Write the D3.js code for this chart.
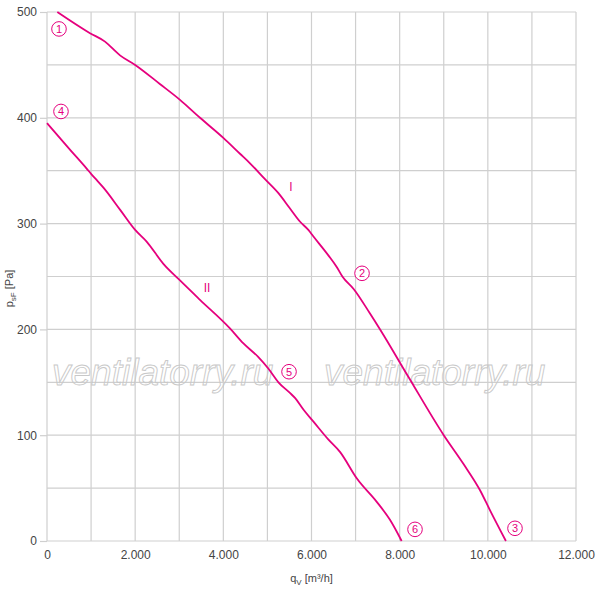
<!DOCTYPE html>
<html>
<head>
<meta charset="utf-8">
<script src="https://cdn.jsdelivr.net/npm/d3@7"></script>
<style>
  html, body { margin: 0; padding: 0; background: #fff; }
  svg { display: block; font-family: "Liberation Sans", Arial, sans-serif; }
</style>
</head>
<body>
<svg id="chart" width="600" height="590"></svg>
<script>
// ---- data ----
const curveI = [
  [234,500],[975,480],[1316,472],[1656,459],[2000,450],[2560,432],[3017,417],
  [3471,400],[4000,381],[4378,366],[4605,357],[4945,342],[5245,329],
  [5500,315],[5737,302],[5929,294],[6040,288],[6382,270],[6572,259],[6700,250],
  [6960,238],[7327,215],[7570,199],[8200,155],[9000,100],[9445,73],
  [9823,48],[10050,29],[10410,0]
];
const curveII = [
  [0,395],[520,370],[900,352],[1000,347],[1130,341],[1280,334],[1660,313],
  [2000,294],[2260,283],[2640,262],[3000,247],[3470,228],[4150,201],[4450,187],
  [4790,174],[5020,163],[5250,150],[5510,140],[5630,135],[5820,124],[6040,113],
  [6380,96],[6650,84],[7030,59],[7480,37],[7780,20],[8045,0]
];
const xTickValues = [0,2000,4000,6000,8000,10000,12000];
const xGridValues = [0,1000,2000,3000,4000,5000,6000,7000,8000,9000,10000,11000,12000];
const yTickValues = [0,100,200,300,400,500];
const yGridValues = [0,50,100,150,200,250,300,350,400,450,500];
const pointLabels = [
  {t:"1", q:272, p:484}, {t:"2", q:7146, p:253}, {t:"3", q:10616, p:12},
  {t:"4", q:317, p:406}, {t:"5", q:5490, p:160}, {t:"6", q:8348, p:11}
];
const curveLabels = [{t:"I", q:5535, p:335}, {t:"II", q:3630, p:239}];

// ---- layout ----
const svg = d3.select("#chart");
const M = {left:47, top:12, right:24, bottom:49};
const W = 600 - M.left - M.right, H = 590 - M.top - M.bottom;
const x = d3.scaleLinear().domain([0,12000]).range([M.left, M.left+W]);
const y = d3.scaleLinear().domain([0,500]).range([M.top+H, M.top]);
const magenta = "#e5007d";
const gridCol = "#cfcfcf";
const textCol = "#444";
const loc = d3.formatLocale({decimal:",", thousands:".", grouping:[3], currency:["",""]});
const fmt = loc.format(",d");

// grid
svg.append("g").selectAll("line").data(xGridValues).join("line")
  .attr("x1", d=>x(d)).attr("x2", d=>x(d)).attr("y1", y(0)).attr("y2", y(500))
  .attr("stroke", gridCol).attr("stroke-width", 1.2);
svg.append("g").selectAll("line").data(yGridValues).join("line")
  .attr("x1", x(0)).attr("x2", x(12000)).attr("y1", d=>y(d)).attr("y2", d=>y(d))
  .attr("stroke", gridCol).attr("stroke-width", 1.2);

// y axis ticks and labels
const yAxis = svg.append("g").attr("transform", `translate(${x(0)},0)`)
  .call(d3.axisLeft(y).tickValues(yTickValues).tickSize(7).tickPadding(3).tickFormat(d=>d));
yAxis.select(".domain").remove();
yAxis.selectAll(".tick line").attr("stroke", gridCol).attr("stroke-width", 1.2);
yAxis.selectAll(".tick text").attr("fill", textCol).style("font-size","12px")
  .style("font-family","Liberation Sans, Arial, sans-serif");

// x axis labels
const xAxis = svg.append("g").attr("transform", `translate(0,${y(0)})`)
  .call(d3.axisBottom(x).tickValues(xTickValues).tickSize(0).tickPadding(9).tickFormat(d=>fmt(d)));
xAxis.select(".domain").remove();
xAxis.selectAll(".tick text").attr("fill", textCol).style("font-size","12px")
  .style("font-family","Liberation Sans, Arial, sans-serif");

// watermark
["ventilatorry.ru","ventilatorry.ru"].forEach((t,i)=>{
  svg.append("text").attr("x", i===0 ? 52 : 324).attr("y", 385)
    .attr("font-size", 37).attr("font-style","italic")
    .attr("fill","none").attr("stroke","#c8c8c8").attr("stroke-width",0.9)
    .text(t);
});

// axis titles
const yt = svg.append("text")
  .attr("transform", `translate(13,${(y(0)+y(500))/2+12}) rotate(-90)`)
  .attr("text-anchor","middle").attr("fill",textCol).style("font-size","11px");
yt.append("tspan").text("p");
yt.append("tspan").attr("dy",3).style("font-size","8px").text("sF");
yt.append("tspan").attr("dy",-3).text(" [Pa]");

const xt = svg.append("text").attr("x", (x(0)+x(12000))/2).attr("y", 582)
  .attr("text-anchor","middle").attr("fill",textCol).style("font-size","11px");
xt.append("tspan").text("q");
xt.append("tspan").attr("dy",3).style("font-size","8px").text("V");
xt.append("tspan").attr("dy",-3).text(" [m³/h]");

// curves
const line = d3.line().x(d=>x(d[0])).y(d=>y(d[1])).curve(d3.curveMonotoneX);
[curveI, curveII].forEach(c=>{
  svg.append("path").datum(c).attr("d", line).attr("fill","none")
    .attr("stroke", magenta).attr("stroke-width", 1.8).attr("stroke-linejoin","round");
});

// circled point labels
const pl = svg.append("g").selectAll("g").data(pointLabels).join("g")
  .attr("transform", d=>`translate(${x(d.q)},${y(d.p)})`);
pl.append("circle").attr("r", 7.3).attr("fill","#fff").attr("stroke", magenta).attr("stroke-width", 1);
pl.append("text").attr("text-anchor","middle").attr("dy","0.36em")
  .attr("fill", magenta).style("font-size","11px").text(d=>d.t);

// curve labels
svg.append("g").selectAll("text").data(curveLabels).join("text")
  .attr("x", d=>x(d.q)).attr("y", d=>y(d.p)).attr("text-anchor","middle").attr("dy","0.36em")
  .attr("fill", magenta).style("font-size","12px").text(d=>d.t);
</script>
</body>
</html>
